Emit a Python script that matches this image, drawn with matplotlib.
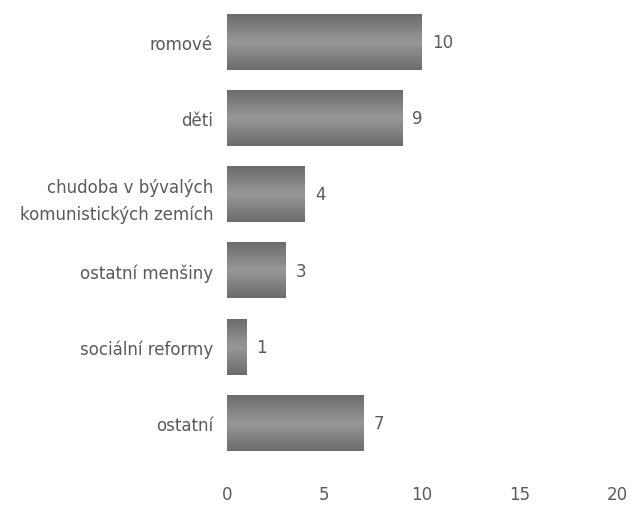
import numpy as np
import matplotlib
matplotlib.use('Agg')
import matplotlib.pyplot as plt
from matplotlib.colors import LinearSegmentedColormap

categories = ['romové', 'děti', 'chudoba v bývalých\nkomunistických zemích',
              'ostatní menšiny', 'sociální reformy', 'ostatní']
values = [10, 9, 4, 3, 1, 7]
xticks = [0, 5, 10, 15, 20]

txt = '#5a5a5a'
plt.rcParams['font.family'] = ['DejaVu Sans']

fig = plt.figure(figsize=(6.42, 5.06), dpi=100)
ax = fig.add_axes([0.3536, 0.087, 0.6074, 0.903])

ypos = np.arange(len(categories))
bars = ax.barh(ypos, values, height=0.73, color='#808080', edgecolor='none')

# vertical shading on each bar: darker edges, lighter middle
cmap = LinearSegmentedColormap.from_list('bar', ['#6c6c6c', '#989898', '#6c6c6c'])
grad = np.linspace(0, 1, 64).reshape(-1, 1)
for b in bars:
    x0, y0, w, h = b.get_x(), b.get_y(), b.get_width(), b.get_height()
    ax.imshow(grad, extent=[x0, x0 + w, y0, y0 + h], cmap=cmap,
              aspect='auto', origin='lower', zorder=2, interpolation='bicubic')

for b, v in zip(bars, values):
    ax.text(b.get_width() + 0.5, b.get_y() + b.get_height() / 2, str(v),
            va='center', ha='left', fontsize=12, color=txt)

ax.set_xlim(0, 20)
ax.set_ylim(len(categories) - 0.5, -0.5)
ax.set_xticks(xticks)
ax.set_yticks(ypos)
ax.set_yticklabels(categories, fontsize=12, color=txt, linespacing=1.6)
ax.tick_params(axis='x', labelsize=12, labelcolor=txt, length=0, pad=17)
ax.tick_params(axis='y', length=0, pad=10)
for s in ax.spines.values():
    s.set_visible(False)

fig.savefig('out.png', dpi=100)
